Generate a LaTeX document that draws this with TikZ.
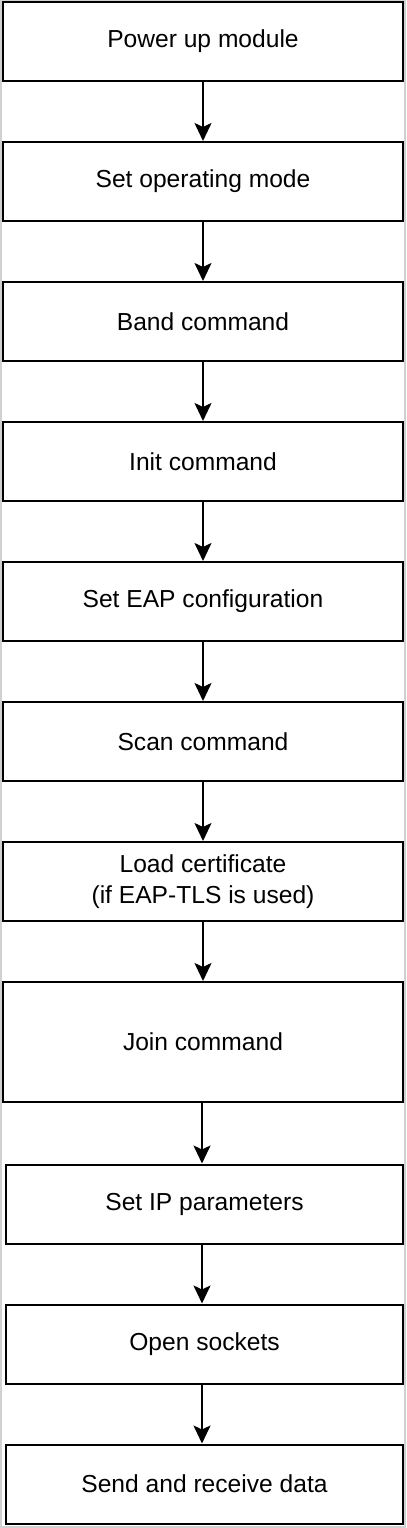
\documentclass[tikz,border=0pt]{standalone}
\usepackage{fontspec}
\setmainfont{Liberation Sans}
\usetikzlibrary{arrows.meta}
\begin{document}
\begin{tikzpicture}[x=1bp,y=-1bp,
  stepbox/.style={draw=black,line width=2bp,fill=white,minimum width=400bp,minimum height=79bp,inner sep=0pt,align=center,font=\fontsize{24.6bp}{30.5bp}\selectfont},
  lowbox/.style={stepbox,minimum width=397bp},
  flow/.style={draw=black,line width=2bp,-{Stealth[length=18bp,width=17bp,inset=4bp]}}]
\useasboundingbox (0,0) rectangle (406,1528);
\draw[draw=black!18,line width=2bp,fill=white] (1,1) rectangle (405,1527);
\node[stepbox] (n1) at (203,41.5) {Power up module};
\node[stepbox] (n2) at (203,181.5) {Set operating mode};
\node[stepbox] (n3) at (203,321.5) {Band command};
\node[stepbox] (n4) at (203,461.5) {Init command};
\node[stepbox] (n5) at (203,601.5) {Set EAP configuration};
\node[stepbox] (n6) at (203,741.5) {Scan command};
\node[stepbox] (n7) at (203,881.5) {Load certificate\\(if EAP-TLS is used)};
\node[stepbox,minimum height=120bp] (n8) at (203,1042) {Join command};
\node[lowbox] (n9) at (204.5,1204) {Set IP parameters};
\node[lowbox] (n10) at (204.5,1344) {Open sockets};
\node[lowbox] (n11) at (204.5,1484) {Send and receive data};
\foreach \a/\b in {n1/n2,n2/n3,n3/n4,n4/n5,n5/n6,n6/n7,n7/n8}
  \draw[flow] (\a.south) -- (\b.north);
\foreach \a/\b in {n8/n9,n9/n10,n10/n11}
  \draw[flow] ([xshift=-1bp]\a.south -| n8.south) -- ([xshift=-1bp]\b.north -| n8.north);
\end{tikzpicture}
\end{document}
